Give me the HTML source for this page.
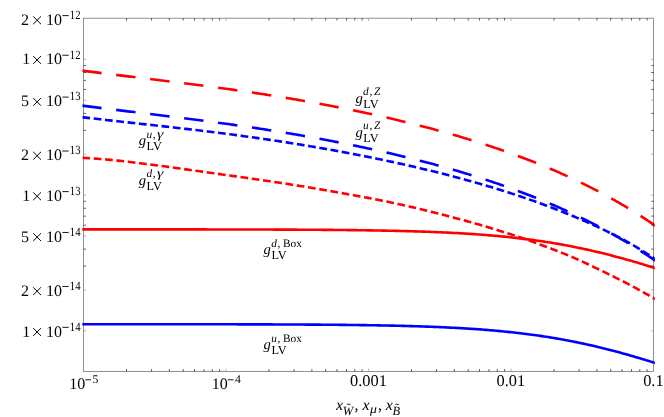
<!DOCTYPE html>
<html><head><meta charset="utf-8"><title>plot</title>
<style>html,body{margin:0;padding:0;background:#fff;}body{width:664px;height:417px;overflow:hidden;font-family:"Liberation Serif",serif;}svg{display:block}</style></head>
<body>
<svg width="664" height="417" viewBox="0 0 664 417">
<defs><clipPath id="c"><rect x="82.3" y="18.2" width="572.5" height="353.2"/></clipPath></defs>
<rect width="664" height="417" fill="#fff"/>
<rect x="83.6" y="18.2" width="570.0" height="353.2" fill="none" stroke="#6e6e6e" stroke-width="0.75"/>
<g clip-path="url(#c)" fill="none" stroke-width="2.6">
<path d="M80.0 324.20 L82.0 324.20 L84.0 324.20 L86.0 324.20 L88.0 324.20 L90.0 324.20 L92.0 324.20 L94.0 324.20 L96.0 324.21 L98.0 324.21 L100.0 324.21 L102.0 324.21 L104.0 324.21 L106.0 324.21 L108.0 324.21 L110.0 324.21 L112.0 324.21 L114.0 324.21 L116.0 324.21 L118.0 324.21 L120.0 324.21 L122.0 324.21 L124.0 324.21 L126.0 324.21 L128.0 324.21 L130.0 324.22 L132.0 324.22 L134.0 324.22 L136.0 324.22 L138.0 324.22 L140.0 324.22 L142.0 324.22 L144.0 324.22 L146.0 324.22 L148.0 324.22 L150.0 324.23 L152.0 324.23 L154.0 324.23 L156.0 324.23 L158.0 324.23 L160.0 324.23 L162.0 324.23 L164.0 324.23 L166.0 324.23 L168.0 324.24 L170.0 324.24 L172.0 324.24 L174.0 324.24 L176.0 324.24 L178.0 324.24 L180.0 324.25 L182.0 324.25 L184.0 324.25 L186.0 324.25 L188.0 324.25 L190.0 324.25 L192.0 324.26 L194.0 324.26 L196.0 324.26 L198.0 324.26 L200.0 324.27 L202.0 324.27 L204.0 324.27 L206.0 324.27 L208.0 324.28 L210.0 324.28 L212.0 324.28 L214.0 324.28 L216.0 324.29 L218.0 324.29 L220.0 324.29 L222.0 324.30 L224.0 324.30 L226.0 324.30 L228.0 324.31 L230.0 324.31 L232.0 324.31 L234.0 324.32 L236.0 324.32 L238.0 324.33 L240.0 324.33 L242.0 324.34 L244.0 324.34 L246.0 324.34 L248.0 324.35 L250.0 324.35 L252.0 324.36 L254.0 324.36 L256.0 324.37 L258.0 324.38 L260.0 324.38 L262.0 324.39 L264.0 324.39 L266.0 324.40 L268.0 324.41 L270.0 324.41 L272.0 324.42 L274.0 324.43 L276.0 324.43 L278.0 324.44 L280.0 324.45 L282.0 324.46 L284.0 324.47 L286.0 324.48 L288.0 324.48 L290.0 324.49 L292.0 324.50 L294.0 324.51 L296.0 324.52 L298.0 324.53 L300.0 324.54 L302.0 324.56 L304.0 324.57 L306.0 324.58 L308.0 324.59 L310.0 324.60 L312.0 324.62 L314.0 324.63 L316.0 324.64 L318.0 324.66 L320.0 324.67 L322.0 324.69 L324.0 324.70 L326.0 324.72 L328.0 324.73 L330.0 324.75 L332.0 324.77 L334.0 324.79 L336.0 324.81 L338.0 324.82 L340.0 324.84 L342.0 324.86 L344.0 324.89 L346.0 324.91 L348.0 324.93 L350.0 324.95 L352.0 324.98 L354.0 325.00 L356.0 325.02 L358.0 325.05 L360.0 325.08 L362.0 325.10 L364.0 325.13 L366.0 325.16 L368.0 325.19 L370.0 325.22 L372.0 325.25 L374.0 325.29 L376.0 325.32 L378.0 325.36 L380.0 325.39 L382.0 325.43 L384.0 325.47 L386.0 325.51 L388.0 325.55 L390.0 325.59 L392.0 325.63 L394.0 325.67 L396.0 325.72 L398.0 325.77 L400.0 325.81 L402.0 325.86 L404.0 325.92 L406.0 325.97 L408.0 326.02 L410.0 326.08 L412.0 326.13 L414.0 326.19 L416.0 326.25 L418.0 326.32 L420.0 326.38 L422.0 326.45 L424.0 326.51 L426.0 326.58 L428.0 326.66 L430.0 326.73 L432.0 326.81 L434.0 326.88 L436.0 326.96 L438.0 327.05 L440.0 327.13 L442.0 327.22 L444.0 327.31 L446.0 327.40 L448.0 327.50 L450.0 327.59 L452.0 327.70 L454.0 327.80 L456.0 327.90 L458.0 328.01 L460.0 328.12 L462.0 328.24 L464.0 328.36 L466.0 328.48 L468.0 328.60 L470.0 328.73 L472.0 328.86 L474.0 329.00 L476.0 329.13 L478.0 329.28 L480.0 329.42 L482.0 329.57 L484.0 329.72 L486.0 329.88 L488.0 330.04 L490.0 330.20 L492.0 330.37 L494.0 330.55 L496.0 330.72 L498.0 330.91 L500.0 331.09 L502.0 331.28 L504.0 331.48 L506.0 331.68 L508.0 331.88 L510.0 332.09 L512.0 332.31 L514.0 332.53 L516.0 332.75 L518.0 332.98 L520.0 333.21 L522.0 333.45 L524.0 333.70 L526.0 333.95 L528.0 334.21 L530.0 334.47 L532.0 334.73 L534.0 335.01 L536.0 335.29 L538.0 335.57 L540.0 335.86 L542.0 336.16 L544.0 336.46 L546.0 336.77 L548.0 337.08 L550.0 337.40 L552.0 337.73 L554.0 338.06 L556.0 338.40 L558.0 338.74 L560.0 339.09 L562.0 339.45 L564.0 339.81 L566.0 340.19 L568.0 340.56 L570.0 340.94 L572.0 341.33 L574.0 341.73 L576.0 342.13 L578.0 342.54 L580.0 342.96 L582.0 343.38 L584.0 343.81 L586.0 344.24 L588.0 344.68 L590.0 345.13 L592.0 345.58 L594.0 346.04 L596.0 346.51 L598.0 346.98 L600.0 347.46 L602.0 347.95 L604.0 348.44 L606.0 348.94 L608.0 349.44 L610.0 349.95 L612.0 350.47 L614.0 350.99 L616.0 351.52 L618.0 352.05 L620.0 352.60 L622.0 353.14 L624.0 353.69 L626.0 354.25 L628.0 354.82 L630.0 355.38 L632.0 355.96 L634.0 356.54 L636.0 357.13 L638.0 357.72 L640.0 358.31 L642.0 358.92 L644.0 359.52 L646.0 360.13 L648.0 360.75 L650.0 361.37 L652.0 362.00 L654.0 362.63 L656.0 363.27" stroke="#0000ff"/>
<path d="M80.0 229.35 L82.0 229.35 L84.0 229.35 L86.0 229.35 L88.0 229.35 L90.0 229.35 L92.0 229.35 L94.0 229.35 L96.0 229.36 L98.0 229.36 L100.0 229.36 L102.0 229.36 L104.0 229.36 L106.0 229.36 L108.0 229.36 L110.0 229.36 L112.0 229.36 L114.0 229.36 L116.0 229.36 L118.0 229.36 L120.0 229.36 L122.0 229.36 L124.0 229.36 L126.0 229.36 L128.0 229.36 L130.0 229.37 L132.0 229.37 L134.0 229.37 L136.0 229.37 L138.0 229.37 L140.0 229.37 L142.0 229.37 L144.0 229.37 L146.0 229.37 L148.0 229.37 L150.0 229.38 L152.0 229.38 L154.0 229.38 L156.0 229.38 L158.0 229.38 L160.0 229.38 L162.0 229.38 L164.0 229.38 L166.0 229.38 L168.0 229.39 L170.0 229.39 L172.0 229.39 L174.0 229.39 L176.0 229.39 L178.0 229.39 L180.0 229.40 L182.0 229.40 L184.0 229.40 L186.0 229.40 L188.0 229.40 L190.0 229.40 L192.0 229.41 L194.0 229.41 L196.0 229.41 L198.0 229.41 L200.0 229.42 L202.0 229.42 L204.0 229.42 L206.0 229.42 L208.0 229.43 L210.0 229.43 L212.0 229.43 L214.0 229.43 L216.0 229.44 L218.0 229.44 L220.0 229.44 L222.0 229.45 L224.0 229.45 L226.0 229.45 L228.0 229.46 L230.0 229.46 L232.0 229.46 L234.0 229.47 L236.0 229.47 L238.0 229.48 L240.0 229.48 L242.0 229.49 L244.0 229.49 L246.0 229.49 L248.0 229.50 L250.0 229.50 L252.0 229.51 L254.0 229.51 L256.0 229.52 L258.0 229.53 L260.0 229.53 L262.0 229.54 L264.0 229.54 L266.0 229.55 L268.0 229.56 L270.0 229.56 L272.0 229.57 L274.0 229.58 L276.0 229.58 L278.0 229.59 L280.0 229.60 L282.0 229.61 L284.0 229.62 L286.0 229.63 L288.0 229.63 L290.0 229.64 L292.0 229.65 L294.0 229.66 L296.0 229.67 L298.0 229.68 L300.0 229.69 L302.0 229.71 L304.0 229.72 L306.0 229.73 L308.0 229.74 L310.0 229.75 L312.0 229.77 L314.0 229.78 L316.0 229.79 L318.0 229.81 L320.0 229.82 L322.0 229.84 L324.0 229.85 L326.0 229.87 L328.0 229.88 L330.0 229.90 L332.0 229.92 L334.0 229.94 L336.0 229.96 L338.0 229.97 L340.0 229.99 L342.0 230.01 L344.0 230.04 L346.0 230.06 L348.0 230.08 L350.0 230.10 L352.0 230.13 L354.0 230.15 L356.0 230.17 L358.0 230.20 L360.0 230.23 L362.0 230.25 L364.0 230.28 L366.0 230.31 L368.0 230.34 L370.0 230.37 L372.0 230.40 L374.0 230.44 L376.0 230.47 L378.0 230.51 L380.0 230.54 L382.0 230.58 L384.0 230.62 L386.0 230.66 L388.0 230.70 L390.0 230.74 L392.0 230.78 L394.0 230.82 L396.0 230.87 L398.0 230.92 L400.0 230.96 L402.0 231.01 L404.0 231.07 L406.0 231.12 L408.0 231.17 L410.0 231.23 L412.0 231.28 L414.0 231.34 L416.0 231.40 L418.0 231.47 L420.0 231.53 L422.0 231.60 L424.0 231.66 L426.0 231.73 L428.0 231.81 L430.0 231.88 L432.0 231.96 L434.0 232.03 L436.0 232.11 L438.0 232.20 L440.0 232.28 L442.0 232.37 L444.0 232.46 L446.0 232.55 L448.0 232.65 L450.0 232.74 L452.0 232.85 L454.0 232.95 L456.0 233.05 L458.0 233.16 L460.0 233.27 L462.0 233.39 L464.0 233.51 L466.0 233.63 L468.0 233.75 L470.0 233.88 L472.0 234.01 L474.0 234.15 L476.0 234.28 L478.0 234.43 L480.0 234.57 L482.0 234.72 L484.0 234.87 L486.0 235.03 L488.0 235.19 L490.0 235.35 L492.0 235.52 L494.0 235.70 L496.0 235.87 L498.0 236.06 L500.0 236.24 L502.0 236.43 L504.0 236.63 L506.0 236.83 L508.0 237.03 L510.0 237.24 L512.0 237.46 L514.0 237.68 L516.0 237.90 L518.0 238.13 L520.0 238.36 L522.0 238.60 L524.0 238.85 L526.0 239.10 L528.0 239.36 L530.0 239.62 L532.0 239.88 L534.0 240.16 L536.0 240.44 L538.0 240.72 L540.0 241.01 L542.0 241.31 L544.0 241.61 L546.0 241.92 L548.0 242.23 L550.0 242.55 L552.0 242.88 L554.0 243.21 L556.0 243.55 L558.0 243.89 L560.0 244.24 L562.0 244.60 L564.0 244.96 L566.0 245.34 L568.0 245.71 L570.0 246.09 L572.0 246.48 L574.0 246.88 L576.0 247.28 L578.0 247.69 L580.0 248.11 L582.0 248.53 L584.0 248.96 L586.0 249.39 L588.0 249.83 L590.0 250.28 L592.0 250.73 L594.0 251.19 L596.0 251.66 L598.0 252.13 L600.0 252.61 L602.0 253.10 L604.0 253.59 L606.0 254.09 L608.0 254.59 L610.0 255.10 L612.0 255.62 L614.0 256.14 L616.0 256.67 L618.0 257.20 L620.0 257.75 L622.0 258.29 L624.0 258.84 L626.0 259.40 L628.0 259.97 L630.0 260.53 L632.0 261.11 L634.0 261.69 L636.0 262.28 L638.0 262.87 L640.0 263.46 L642.0 264.07 L644.0 264.67 L646.0 265.28 L648.0 265.90 L650.0 266.52 L652.0 267.15 L654.0 267.78 L656.0 268.42" stroke="#ff0000"/>
<path d="M80.0 157.68 L82.0 157.77 L84.0 157.88 L86.0 157.99 L88.0 158.11 L90.0 158.23 L92.0 158.36 L94.0 158.50 L96.0 158.65 L98.0 158.80 L100.0 158.96 L102.0 159.13 L104.0 159.30 L106.0 159.48 L108.0 159.66 L110.0 159.85 L112.0 160.04 L114.0 160.24 L116.0 160.44 L118.0 160.65 L120.0 160.86 L122.0 161.08 L124.0 161.30 L126.0 161.52 L128.0 161.75 L130.0 161.98 L132.0 162.21 L134.0 162.45 L136.0 162.69 L138.0 162.93 L140.0 163.18 L142.0 163.43 L144.0 163.68 L146.0 163.94 L148.0 164.19 L150.0 164.45 L152.0 164.71 L154.0 164.97 L156.0 165.24 L158.0 165.50 L160.0 165.77 L162.0 166.04 L164.0 166.31 L166.0 166.58 L168.0 166.86 L170.0 167.13 L172.0 167.41 L174.0 167.68 L176.0 167.96 L178.0 168.24 L180.0 168.52 L182.0 168.79 L184.0 169.07 L186.0 169.35 L188.0 169.63 L190.0 169.92 L192.0 170.20 L194.0 170.48 L196.0 170.76 L198.0 171.04 L200.0 171.32 L202.0 171.60 L204.0 171.89 L206.0 172.17 L208.0 172.45 L210.0 172.73 L212.0 173.01 L214.0 173.30 L216.0 173.58 L218.0 173.86 L220.0 174.14 L222.0 174.42 L224.0 174.71 L226.0 174.99 L228.0 175.27 L230.0 175.56 L232.0 175.84 L234.0 176.12 L236.0 176.41 L238.0 176.69 L240.0 176.97 L242.0 177.26 L244.0 177.54 L246.0 177.83 L248.0 178.12 L250.0 178.40 L252.0 178.69 L254.0 178.98 L256.0 179.27 L258.0 179.56 L260.0 179.85 L262.0 180.14 L264.0 180.43 L266.0 180.73 L268.0 181.02 L270.0 181.32 L272.0 181.61 L274.0 181.91 L276.0 182.21 L278.0 182.51 L280.0 182.81 L282.0 183.12 L284.0 183.42 L286.0 183.73 L288.0 184.04 L290.0 184.35 L292.0 184.66 L294.0 184.98 L296.0 185.29 L298.0 185.61 L300.0 185.93 L302.0 186.26 L304.0 186.58 L306.0 186.91 L308.0 187.24 L310.0 187.57 L312.0 187.91 L314.0 188.24 L316.0 188.58 L318.0 188.92 L320.0 189.26 L322.0 189.61 L324.0 189.95 L326.0 190.30 L328.0 190.65 L330.0 191.00 L332.0 191.35 L334.0 191.70 L336.0 192.06 L338.0 192.41 L340.0 192.77 L342.0 193.13 L344.0 193.49 L346.0 193.85 L348.0 194.21 L350.0 194.57 L352.0 194.94 L354.0 195.30 L356.0 195.67 L358.0 196.04 L360.0 196.41 L362.0 196.78 L364.0 197.15 L366.0 197.53 L368.0 197.90 L370.0 198.28 L372.0 198.67 L374.0 199.05 L376.0 199.44 L378.0 199.83 L380.0 200.23 L382.0 200.63 L384.0 201.03 L386.0 201.44 L388.0 201.84 L390.0 202.26 L392.0 202.68 L394.0 203.10 L396.0 203.53 L398.0 203.96 L400.0 204.40 L402.0 204.84 L404.0 205.28 L406.0 205.74 L408.0 206.19 L410.0 206.65 L412.0 207.12 L414.0 207.59 L416.0 208.06 L418.0 208.54 L420.0 209.02 L422.0 209.51 L424.0 210.00 L426.0 210.49 L428.0 210.98 L430.0 211.48 L432.0 211.98 L434.0 212.49 L436.0 213.00 L438.0 213.51 L440.0 214.02 L442.0 214.53 L444.0 215.05 L446.0 215.57 L448.0 216.09 L450.0 216.61 L452.0 217.13 L454.0 217.66 L456.0 218.19 L458.0 218.72 L460.0 219.25 L462.0 219.79 L464.0 220.33 L466.0 220.87 L468.0 221.42 L470.0 221.97 L472.0 222.53 L474.0 223.09 L476.0 223.66 L478.0 224.24 L480.0 224.82 L482.0 225.40 L484.0 226.00 L486.0 226.60 L488.0 227.20 L490.0 227.81 L492.0 228.42 L494.0 229.04 L496.0 229.66 L498.0 230.28 L500.0 230.91 L502.0 231.54 L504.0 232.16 L506.0 232.79 L508.0 233.43 L510.0 234.06 L512.0 234.70 L514.0 235.35 L516.0 236.00 L518.0 236.66 L520.0 237.32 L522.0 237.99 L524.0 238.67 L526.0 239.36 L528.0 240.06 L530.0 240.77 L532.0 241.49 L534.0 242.22 L536.0 242.95 L538.0 243.70 L540.0 244.44 L542.0 245.19 L544.0 245.95 L546.0 246.70 L548.0 247.45 L550.0 248.21 L552.0 248.97 L554.0 249.73 L556.0 250.49 L558.0 251.27 L560.0 252.05 L562.0 252.84 L564.0 253.64 L566.0 254.45 L568.0 255.27 L570.0 256.11 L572.0 256.96 L574.0 257.82 L576.0 258.69 L578.0 259.58 L580.0 260.48 L582.0 261.40 L584.0 262.33 L586.0 263.26 L588.0 264.21 L590.0 265.17 L592.0 266.13 L594.0 267.09 L596.0 268.06 L598.0 269.03 L600.0 270.00 L602.0 270.98 L604.0 271.95 L606.0 272.92 L608.0 273.89 L610.0 274.87 L612.0 275.85 L614.0 276.84 L616.0 277.83 L618.0 278.83 L620.0 279.84 L622.0 280.85 L624.0 281.88 L626.0 282.91 L628.0 283.96 L630.0 285.01 L632.0 286.08 L634.0 287.15 L636.0 288.23 L638.0 289.33 L640.0 290.43 L642.0 291.54 L644.0 292.66 L646.0 293.79 L648.0 294.92 L650.0 296.06 L652.0 297.20 L654.0 298.35 L656.0 299.49" stroke="#ff0000" stroke-dasharray="7.75 3.63" stroke-dashoffset="9.0"/>
<path d="M80.0 116.87 L82.0 117.12 L84.0 117.36 L86.0 117.61 L88.0 117.85 L90.0 118.09 L92.0 118.32 L94.0 118.56 L96.0 118.79 L98.0 119.03 L100.0 119.26 L102.0 119.49 L104.0 119.72 L106.0 119.95 L108.0 120.17 L110.0 120.40 L112.0 120.63 L114.0 120.85 L116.0 121.07 L118.0 121.30 L120.0 121.52 L122.0 121.74 L124.0 121.96 L126.0 122.18 L128.0 122.40 L130.0 122.63 L132.0 122.85 L134.0 123.07 L136.0 123.29 L138.0 123.50 L140.0 123.72 L142.0 123.94 L144.0 124.16 L146.0 124.38 L148.0 124.60 L150.0 124.82 L152.0 125.05 L154.0 125.27 L156.0 125.49 L158.0 125.71 L160.0 125.93 L162.0 126.16 L164.0 126.38 L166.0 126.60 L168.0 126.83 L170.0 127.05 L172.0 127.28 L174.0 127.51 L176.0 127.73 L178.0 127.96 L180.0 128.19 L182.0 128.42 L184.0 128.65 L186.0 128.89 L188.0 129.12 L190.0 129.35 L192.0 129.59 L194.0 129.83 L196.0 130.06 L198.0 130.30 L200.0 130.54 L202.0 130.78 L204.0 131.03 L206.0 131.27 L208.0 131.52 L210.0 131.76 L212.0 132.01 L214.0 132.26 L216.0 132.51 L218.0 132.76 L220.0 133.02 L222.0 133.27 L224.0 133.53 L226.0 133.79 L228.0 134.04 L230.0 134.31 L232.0 134.57 L234.0 134.83 L236.0 135.10 L238.0 135.37 L240.0 135.64 L242.0 135.91 L244.0 136.18 L246.0 136.45 L248.0 136.73 L250.0 137.01 L252.0 137.29 L254.0 137.57 L256.0 137.85 L258.0 138.14 L260.0 138.42 L262.0 138.71 L264.0 139.00 L266.0 139.29 L268.0 139.59 L270.0 139.88 L272.0 140.18 L274.0 140.48 L276.0 140.78 L278.0 141.09 L280.0 141.39 L282.0 141.70 L284.0 142.01 L286.0 142.32 L288.0 142.63 L290.0 142.95 L292.0 143.27 L294.0 143.59 L296.0 143.91 L298.0 144.23 L300.0 144.55 L302.0 144.88 L304.0 145.21 L306.0 145.54 L308.0 145.88 L310.0 146.21 L312.0 146.55 L314.0 146.89 L316.0 147.23 L318.0 147.57 L320.0 147.92 L322.0 148.27 L324.0 148.62 L326.0 148.97 L328.0 149.33 L330.0 149.68 L332.0 150.04 L334.0 150.40 L336.0 150.77 L338.0 151.13 L340.0 151.50 L342.0 151.87 L344.0 152.24 L346.0 152.62 L348.0 152.99 L350.0 153.37 L352.0 153.75 L354.0 154.14 L356.0 154.52 L358.0 154.91 L360.0 155.30 L362.0 155.70 L364.0 156.09 L366.0 156.49 L368.0 156.89 L370.0 157.29 L372.0 157.70 L374.0 158.11 L376.0 158.52 L378.0 158.93 L380.0 159.34 L382.0 159.76 L384.0 160.18 L386.0 160.60 L388.0 161.03 L390.0 161.46 L392.0 161.89 L394.0 162.32 L396.0 162.76 L398.0 163.20 L400.0 163.64 L402.0 164.08 L404.0 164.53 L406.0 164.98 L408.0 165.43 L410.0 165.88 L412.0 166.34 L414.0 166.80 L416.0 167.27 L418.0 167.73 L420.0 168.20 L422.0 168.68 L424.0 169.15 L426.0 169.63 L428.0 170.11 L430.0 170.60 L432.0 171.08 L434.0 171.57 L436.0 172.07 L438.0 172.57 L440.0 173.07 L442.0 173.57 L444.0 174.08 L446.0 174.59 L448.0 175.10 L450.0 175.62 L452.0 176.14 L454.0 176.67 L456.0 177.19 L458.0 177.73 L460.0 178.26 L462.0 178.80 L464.0 179.34 L466.0 179.89 L468.0 180.44 L470.0 180.99 L472.0 181.55 L474.0 182.11 L476.0 182.68 L478.0 183.25 L480.0 183.82 L482.0 184.40 L484.0 184.99 L486.0 185.57 L488.0 186.16 L490.0 186.76 L492.0 187.36 L494.0 187.96 L496.0 188.57 L498.0 189.19 L500.0 189.81 L502.0 190.43 L504.0 191.06 L506.0 191.69 L508.0 192.33 L510.0 192.97 L512.0 193.62 L514.0 194.27 L516.0 194.93 L518.0 195.60 L520.0 196.26 L522.0 196.94 L524.0 197.62 L526.0 198.30 L528.0 198.99 L530.0 199.69 L532.0 200.39 L534.0 201.10 L536.0 201.81 L538.0 202.53 L540.0 203.25 L542.0 203.98 L544.0 204.72 L546.0 205.46 L548.0 206.21 L550.0 206.96 L552.0 207.72 L554.0 208.49 L556.0 209.26 L558.0 210.04 L560.0 210.83 L562.0 211.63 L564.0 212.43 L566.0 213.23 L568.0 214.05 L570.0 214.87 L572.0 215.69 L574.0 216.53 L576.0 217.37 L578.0 218.22 L580.0 219.07 L582.0 219.94 L584.0 220.81 L586.0 221.68 L588.0 222.57 L590.0 223.46 L592.0 224.36 L594.0 225.26 L596.0 226.17 L598.0 227.10 L600.0 228.02 L602.0 228.96 L604.0 229.90 L606.0 230.86 L608.0 231.82 L610.0 232.80 L612.0 233.78 L614.0 234.78 L616.0 235.80 L618.0 236.83 L620.0 237.87 L622.0 238.93 L624.0 240.01 L626.0 241.10 L628.0 242.21 L630.0 243.34 L632.0 244.49 L634.0 245.66 L636.0 246.84 L638.0 248.04 L640.0 249.26 L642.0 250.49 L644.0 251.74 L646.0 253.01 L648.0 254.29 L650.0 255.58 L652.0 256.89 L654.0 258.22 L656.0 259.56" stroke="#0000ff" stroke-dasharray="7.75 3.63" stroke-dashoffset="9.0"/>
<path d="M80.0 105.34 L82.0 105.61 L84.0 105.87 L86.0 106.13 L88.0 106.38 L90.0 106.64 L92.0 106.90 L94.0 107.15 L96.0 107.40 L98.0 107.66 L100.0 107.91 L102.0 108.16 L104.0 108.41 L106.0 108.66 L108.0 108.90 L110.0 109.15 L112.0 109.40 L114.0 109.64 L116.0 109.89 L118.0 110.13 L120.0 110.37 L122.0 110.62 L124.0 110.86 L126.0 111.10 L128.0 111.34 L130.0 111.59 L132.0 111.83 L134.0 112.07 L136.0 112.31 L138.0 112.55 L140.0 112.80 L142.0 113.04 L144.0 113.28 L146.0 113.52 L148.0 113.76 L150.0 114.01 L152.0 114.25 L154.0 114.49 L156.0 114.73 L158.0 114.98 L160.0 115.22 L162.0 115.47 L164.0 115.71 L166.0 115.96 L168.0 116.21 L170.0 116.45 L172.0 116.70 L174.0 116.95 L176.0 117.20 L178.0 117.45 L180.0 117.70 L182.0 117.95 L184.0 118.20 L186.0 118.46 L188.0 118.71 L190.0 118.97 L192.0 119.22 L194.0 119.48 L196.0 119.74 L198.0 120.00 L200.0 120.26 L202.0 120.52 L204.0 120.78 L206.0 121.05 L208.0 121.31 L210.0 121.58 L212.0 121.85 L214.0 122.11 L216.0 122.38 L218.0 122.66 L220.0 122.93 L222.0 123.20 L224.0 123.48 L226.0 123.76 L228.0 124.04 L230.0 124.32 L232.0 124.60 L234.0 124.88 L236.0 125.17 L238.0 125.45 L240.0 125.74 L242.0 126.03 L244.0 126.32 L246.0 126.62 L248.0 126.91 L250.0 127.21 L252.0 127.51 L254.0 127.81 L256.0 128.11 L258.0 128.41 L260.0 128.72 L262.0 129.03 L264.0 129.34 L266.0 129.65 L268.0 129.96 L270.0 130.27 L272.0 130.59 L274.0 130.91 L276.0 131.23 L278.0 131.55 L280.0 131.88 L282.0 132.20 L284.0 132.53 L286.0 132.86 L288.0 133.20 L290.0 133.53 L292.0 133.87 L294.0 134.21 L296.0 134.55 L298.0 134.89 L300.0 135.24 L302.0 135.59 L304.0 135.94 L306.0 136.29 L308.0 136.64 L310.0 137.00 L312.0 137.36 L314.0 137.72 L316.0 138.08 L318.0 138.45 L320.0 138.82 L322.0 139.19 L324.0 139.56 L326.0 139.94 L328.0 140.31 L330.0 140.70 L332.0 141.08 L334.0 141.46 L336.0 141.85 L338.0 142.24 L340.0 142.63 L342.0 143.03 L344.0 143.43 L346.0 143.83 L348.0 144.23 L350.0 144.64 L352.0 145.05 L354.0 145.46 L356.0 145.87 L358.0 146.29 L360.0 146.71 L362.0 147.13 L364.0 147.55 L366.0 147.98 L368.0 148.41 L370.0 148.84 L372.0 149.28 L374.0 149.72 L376.0 150.16 L378.0 150.60 L380.0 151.05 L382.0 151.50 L384.0 151.96 L386.0 152.41 L388.0 152.87 L390.0 153.34 L392.0 153.80 L394.0 154.27 L396.0 154.74 L398.0 155.22 L400.0 155.70 L402.0 156.18 L404.0 156.66 L406.0 157.15 L408.0 157.64 L410.0 158.14 L412.0 158.64 L414.0 159.14 L416.0 159.65 L418.0 160.15 L420.0 160.67 L422.0 161.18 L424.0 161.70 L426.0 162.23 L428.0 162.75 L430.0 163.28 L432.0 163.82 L434.0 164.36 L436.0 164.90 L438.0 165.44 L440.0 165.99 L442.0 166.55 L444.0 167.10 L446.0 167.67 L448.0 168.23 L450.0 168.80 L452.0 169.37 L454.0 169.95 L456.0 170.53 L458.0 171.12 L460.0 171.71 L462.0 172.31 L464.0 172.90 L466.0 173.51 L468.0 174.12 L470.0 174.73 L472.0 175.35 L474.0 175.97 L476.0 176.60 L478.0 177.23 L480.0 177.86 L482.0 178.50 L484.0 179.15 L486.0 179.80 L488.0 180.46 L490.0 181.12 L492.0 181.78 L494.0 182.45 L496.0 183.13 L498.0 183.81 L500.0 184.50 L502.0 185.19 L504.0 185.89 L506.0 186.59 L508.0 187.30 L510.0 188.02 L512.0 188.74 L514.0 189.46 L516.0 190.19 L518.0 190.93 L520.0 191.68 L522.0 192.43 L524.0 193.18 L526.0 193.94 L528.0 194.71 L530.0 195.49 L532.0 196.27 L534.0 197.06 L536.0 197.85 L538.0 198.65 L540.0 199.46 L542.0 200.28 L544.0 201.10 L546.0 201.93 L548.0 202.76 L550.0 203.60 L552.0 204.45 L554.0 205.31 L556.0 206.18 L558.0 207.05 L560.0 207.93 L562.0 208.82 L564.0 209.71 L566.0 210.61 L568.0 211.53 L570.0 212.45 L572.0 213.37 L574.0 214.31 L576.0 215.25 L578.0 216.20 L580.0 217.17 L582.0 218.14 L584.0 219.11 L586.0 220.10 L588.0 221.10 L590.0 222.10 L592.0 223.12 L594.0 224.14 L596.0 225.18 L598.0 226.22 L600.0 227.27 L602.0 228.33 L604.0 229.41 L606.0 230.49 L608.0 231.58 L610.0 232.68 L612.0 233.80 L614.0 234.92 L616.0 236.05 L618.0 237.20 L620.0 238.36 L622.0 239.52 L624.0 240.70 L626.0 241.89 L628.0 243.09 L630.0 244.30 L632.0 245.53 L634.0 246.76 L636.0 248.01 L638.0 249.27 L640.0 250.54 L642.0 251.82 L644.0 253.12 L646.0 254.43 L648.0 255.75 L650.0 257.09 L652.0 258.44 L654.0 259.80 L656.0 261.17" stroke="#0000ff" stroke-dasharray="19.5 14.73" stroke-dashoffset="32.0"/>
<path d="M80.0 70.34 L82.0 70.61 L84.0 70.87 L86.0 71.13 L88.0 71.38 L90.0 71.64 L92.0 71.90 L94.0 72.15 L96.0 72.40 L98.0 72.66 L100.0 72.91 L102.0 73.16 L104.0 73.41 L106.0 73.66 L108.0 73.90 L110.0 74.15 L112.0 74.40 L114.0 74.64 L116.0 74.89 L118.0 75.13 L120.0 75.37 L122.0 75.62 L124.0 75.86 L126.0 76.10 L128.0 76.34 L130.0 76.59 L132.0 76.83 L134.0 77.07 L136.0 77.31 L138.0 77.55 L140.0 77.80 L142.0 78.04 L144.0 78.28 L146.0 78.52 L148.0 78.76 L150.0 79.01 L152.0 79.25 L154.0 79.49 L156.0 79.73 L158.0 79.98 L160.0 80.22 L162.0 80.47 L164.0 80.71 L166.0 80.96 L168.0 81.21 L170.0 81.45 L172.0 81.70 L174.0 81.95 L176.0 82.20 L178.0 82.45 L180.0 82.70 L182.0 82.95 L184.0 83.20 L186.0 83.46 L188.0 83.71 L190.0 83.97 L192.0 84.22 L194.0 84.48 L196.0 84.74 L198.0 85.00 L200.0 85.26 L202.0 85.52 L204.0 85.78 L206.0 86.05 L208.0 86.31 L210.0 86.58 L212.0 86.85 L214.0 87.11 L216.0 87.38 L218.0 87.66 L220.0 87.93 L222.0 88.20 L224.0 88.48 L226.0 88.76 L228.0 89.04 L230.0 89.32 L232.0 89.60 L234.0 89.88 L236.0 90.17 L238.0 90.45 L240.0 90.74 L242.0 91.03 L244.0 91.32 L246.0 91.62 L248.0 91.91 L250.0 92.21 L252.0 92.51 L254.0 92.81 L256.0 93.11 L258.0 93.41 L260.0 93.72 L262.0 94.03 L264.0 94.34 L266.0 94.65 L268.0 94.96 L270.0 95.27 L272.0 95.59 L274.0 95.91 L276.0 96.23 L278.0 96.55 L280.0 96.88 L282.0 97.20 L284.0 97.53 L286.0 97.86 L288.0 98.20 L290.0 98.53 L292.0 98.87 L294.0 99.21 L296.0 99.55 L298.0 99.89 L300.0 100.24 L302.0 100.59 L304.0 100.94 L306.0 101.29 L308.0 101.64 L310.0 102.00 L312.0 102.36 L314.0 102.72 L316.0 103.08 L318.0 103.45 L320.0 103.82 L322.0 104.19 L324.0 104.56 L326.0 104.94 L328.0 105.31 L330.0 105.70 L332.0 106.08 L334.0 106.46 L336.0 106.85 L338.0 107.24 L340.0 107.63 L342.0 108.03 L344.0 108.43 L346.0 108.83 L348.0 109.23 L350.0 109.64 L352.0 110.05 L354.0 110.46 L356.0 110.87 L358.0 111.29 L360.0 111.71 L362.0 112.13 L364.0 112.55 L366.0 112.98 L368.0 113.41 L370.0 113.84 L372.0 114.28 L374.0 114.72 L376.0 115.16 L378.0 115.60 L380.0 116.05 L382.0 116.50 L384.0 116.96 L386.0 117.41 L388.0 117.87 L390.0 118.34 L392.0 118.80 L394.0 119.27 L396.0 119.74 L398.0 120.22 L400.0 120.70 L402.0 121.18 L404.0 121.66 L406.0 122.15 L408.0 122.64 L410.0 123.14 L412.0 123.64 L414.0 124.14 L416.0 124.65 L418.0 125.15 L420.0 125.67 L422.0 126.18 L424.0 126.70 L426.0 127.23 L428.0 127.75 L430.0 128.28 L432.0 128.82 L434.0 129.36 L436.0 129.90 L438.0 130.44 L440.0 130.99 L442.0 131.55 L444.0 132.10 L446.0 132.67 L448.0 133.23 L450.0 133.80 L452.0 134.37 L454.0 134.95 L456.0 135.53 L458.0 136.12 L460.0 136.71 L462.0 137.31 L464.0 137.90 L466.0 138.51 L468.0 139.12 L470.0 139.73 L472.0 140.35 L474.0 140.97 L476.0 141.60 L478.0 142.23 L480.0 142.86 L482.0 143.50 L484.0 144.15 L486.0 144.80 L488.0 145.46 L490.0 146.12 L492.0 146.78 L494.0 147.45 L496.0 148.13 L498.0 148.81 L500.0 149.50 L502.0 150.19 L504.0 150.89 L506.0 151.59 L508.0 152.30 L510.0 153.02 L512.0 153.74 L514.0 154.46 L516.0 155.19 L518.0 155.93 L520.0 156.68 L522.0 157.43 L524.0 158.18 L526.0 158.94 L528.0 159.71 L530.0 160.49 L532.0 161.27 L534.0 162.06 L536.0 162.85 L538.0 163.65 L540.0 164.46 L542.0 165.28 L544.0 166.10 L546.0 166.93 L548.0 167.76 L550.0 168.60 L552.0 169.45 L554.0 170.31 L556.0 171.18 L558.0 172.05 L560.0 172.93 L562.0 173.82 L564.0 174.71 L566.0 175.61 L568.0 176.53 L570.0 177.45 L572.0 178.37 L574.0 179.31 L576.0 180.25 L578.0 181.20 L580.0 182.17 L582.0 183.14 L584.0 184.11 L586.0 185.10 L588.0 186.10 L590.0 187.10 L592.0 188.12 L594.0 189.14 L596.0 190.18 L598.0 191.22 L600.0 192.27 L602.0 193.33 L604.0 194.41 L606.0 195.49 L608.0 196.58 L610.0 197.68 L612.0 198.80 L614.0 199.92 L616.0 201.05 L618.0 202.20 L620.0 203.36 L622.0 204.52 L624.0 205.70 L626.0 206.89 L628.0 208.09 L630.0 209.30 L632.0 210.53 L634.0 211.76 L636.0 213.01 L638.0 214.27 L640.0 215.54 L642.0 216.82 L644.0 218.12 L646.0 219.43 L648.0 220.75 L650.0 222.09 L652.0 223.44 L654.0 224.80 L656.0 226.17" stroke="#ff0000" stroke-dasharray="19.5 14.73" stroke-dashoffset="32.0"/>
</g>
<path d="M83.6 59.36h2.8M653.6 59.36h-2.8M83.6 195.10h2.8M653.6 195.10h-2.8M83.6 154.24h2.8M653.6 154.24h-2.8M83.6 100.22h2.8M653.6 100.22h-2.8M83.6 330.84h2.8M653.6 330.84h-2.8M83.6 289.98h2.8M653.6 289.98h-2.8M83.6 235.96h2.8M653.6 235.96h-2.8M226.10 371.4v-2.8M226.10 18.2v2.8M368.60 371.4v-2.8M368.60 18.2v2.8M511.10 371.4v-2.8M511.10 18.2v2.8" stroke="#989898" stroke-width="0.7" fill="none"/>
<path d="M83.6 130.34h2.3M653.6 130.34h-2.3M83.6 113.38h2.3M653.6 113.38h-2.3M83.6 89.47h2.3M653.6 89.47h-2.3M83.6 80.39h2.3M653.6 80.39h-2.3M83.6 72.52h2.3M653.6 72.52h-2.3M83.6 65.57h2.3M653.6 65.57h-2.3M83.6 266.07h2.3M653.6 266.07h-2.3M83.6 249.12h2.3M653.6 249.12h-2.3M83.6 225.21h2.3M653.6 225.21h-2.3M83.6 216.13h2.3M653.6 216.13h-2.3M83.6 208.25h2.3M653.6 208.25h-2.3M83.6 201.31h2.3M653.6 201.31h-2.3M126.50 371.4v-2.3M126.50 18.2v2.3M151.59 371.4v-2.3M151.59 18.2v2.3M169.39 371.4v-2.3M169.39 18.2v2.3M183.20 371.4v-2.3M183.20 18.2v2.3M194.49 371.4v-2.3M194.49 18.2v2.3M204.03 371.4v-2.3M204.03 18.2v2.3M212.29 371.4v-2.3M212.29 18.2v2.3M219.58 371.4v-2.3M219.58 18.2v2.3M269.00 371.4v-2.3M269.00 18.2v2.3M294.09 371.4v-2.3M294.09 18.2v2.3M311.89 371.4v-2.3M311.89 18.2v2.3M325.70 371.4v-2.3M325.70 18.2v2.3M336.99 371.4v-2.3M336.99 18.2v2.3M346.53 371.4v-2.3M346.53 18.2v2.3M354.79 371.4v-2.3M354.79 18.2v2.3M362.08 371.4v-2.3M362.08 18.2v2.3M411.50 371.4v-2.3M411.50 18.2v2.3M436.59 371.4v-2.3M436.59 18.2v2.3M454.39 371.4v-2.3M454.39 18.2v2.3M468.20 371.4v-2.3M468.20 18.2v2.3M479.49 371.4v-2.3M479.49 18.2v2.3M489.03 371.4v-2.3M489.03 18.2v2.3M497.29 371.4v-2.3M497.29 18.2v2.3M504.58 371.4v-2.3M504.58 18.2v2.3M554.00 371.4v-2.3M554.00 18.2v2.3M579.09 371.4v-2.3M579.09 18.2v2.3M596.89 371.4v-2.3M596.89 18.2v2.3M610.70 371.4v-2.3M610.70 18.2v2.3M621.99 371.4v-2.3M621.99 18.2v2.3M631.53 371.4v-2.3M631.53 18.2v2.3M639.79 371.4v-2.3M639.79 18.2v2.3M647.08 371.4v-2.3M647.08 18.2v2.3" stroke="#000000" stroke-width="0.65" fill="none"/>
<g font-family="'Liberation Serif', serif" fill="#000" text-rendering="geometricPrecision" style="will-change:transform">
<text x="21.00" y="24.80" font-size="16.00">2</text>
<path d="M33.20 16.40l7.80 7.80M33.20 24.20l7.80 -7.80" stroke="#000" stroke-width="1" fill="none"/>
<text x="46.00" y="24.80" font-size="16.00">10</text>
<path d="M62.40 15.60h6.3" stroke="#000" stroke-width="0.9" fill="none"/>
<text x="69.80" y="18.90" font-size="12.60" textLength="10.7" lengthAdjust="spacingAndGlyphs">12</text>
<text x="22.20" y="64.46" font-size="16.00">1</text>
<path d="M33.20 56.06l7.80 7.80M33.20 63.86l7.80 -7.80" stroke="#000" stroke-width="1" fill="none"/>
<text x="46.00" y="64.46" font-size="16.00">10</text>
<path d="M62.40 55.26h6.3" stroke="#000" stroke-width="0.9" fill="none"/>
<text x="69.80" y="58.56" font-size="12.60" textLength="10.7" lengthAdjust="spacingAndGlyphs">12</text>
<text x="21.00" y="106.32" font-size="16.00">5</text>
<path d="M33.20 97.92l7.80 7.80M33.20 105.72l7.80 -7.80" stroke="#000" stroke-width="1" fill="none"/>
<text x="46.00" y="106.32" font-size="16.00">10</text>
<path d="M62.40 97.12h6.3" stroke="#000" stroke-width="0.9" fill="none"/>
<text x="69.80" y="100.42" font-size="12.60" textLength="10.7" lengthAdjust="spacingAndGlyphs">13</text>
<text x="21.00" y="160.24" font-size="16.00">2</text>
<path d="M33.20 151.84l7.80 7.80M33.20 159.64l7.80 -7.80" stroke="#000" stroke-width="1" fill="none"/>
<text x="46.00" y="160.24" font-size="16.00">10</text>
<path d="M62.40 151.04h6.3" stroke="#000" stroke-width="0.9" fill="none"/>
<text x="69.80" y="154.34" font-size="12.60" textLength="10.7" lengthAdjust="spacingAndGlyphs">13</text>
<text x="22.20" y="200.80" font-size="16.00">1</text>
<path d="M33.20 192.40l7.80 7.80M33.20 200.20l7.80 -7.80" stroke="#000" stroke-width="1" fill="none"/>
<text x="46.00" y="200.80" font-size="16.00">10</text>
<path d="M62.40 191.60h6.3" stroke="#000" stroke-width="0.9" fill="none"/>
<text x="69.80" y="194.90" font-size="12.60" textLength="10.7" lengthAdjust="spacingAndGlyphs">13</text>
<text x="21.00" y="241.66" font-size="16.00">5</text>
<path d="M33.20 233.26l7.80 7.80M33.20 241.06l7.80 -7.80" stroke="#000" stroke-width="1" fill="none"/>
<text x="46.00" y="241.66" font-size="16.00">10</text>
<path d="M62.40 232.46h6.3" stroke="#000" stroke-width="0.9" fill="none"/>
<text x="69.80" y="235.76" font-size="12.60" textLength="10.7" lengthAdjust="spacingAndGlyphs">14</text>
<text x="21.00" y="295.68" font-size="16.00">2</text>
<path d="M33.20 287.28l7.80 7.80M33.20 295.08l7.80 -7.80" stroke="#000" stroke-width="1" fill="none"/>
<text x="46.00" y="295.68" font-size="16.00">10</text>
<path d="M62.40 286.48h6.3" stroke="#000" stroke-width="0.9" fill="none"/>
<text x="69.80" y="289.78" font-size="12.60" textLength="10.7" lengthAdjust="spacingAndGlyphs">14</text>
<text x="22.20" y="336.54" font-size="16.00">1</text>
<path d="M33.20 328.14l7.80 7.80M33.20 335.94l7.80 -7.80" stroke="#000" stroke-width="1" fill="none"/>
<text x="46.00" y="336.54" font-size="16.00">10</text>
<path d="M62.40 327.34h6.3" stroke="#000" stroke-width="0.9" fill="none"/>
<text x="69.80" y="330.64" font-size="12.60" textLength="10.7" lengthAdjust="spacingAndGlyphs">14</text>
<text x="69.20" y="389.00" font-size="16.00">10</text>
<path d="M85.30 379.80h5.7" stroke="#000" stroke-width="0.9" fill="none"/>
<text x="92.40" y="383.00" font-size="11.80">5</text>
<text x="211.70" y="389.00" font-size="16.00">10</text>
<path d="M227.80 379.80h5.7" stroke="#000" stroke-width="0.9" fill="none"/>
<text x="234.90" y="383.00" font-size="11.80">4</text>
<text x="368.40" y="386.10" font-size="16.40" text-anchor="middle">0.001</text>
<text x="510.90" y="386.10" font-size="16.40" text-anchor="middle">0.01</text>
<text x="653.40" y="386.10" font-size="16.40" text-anchor="middle">0.1</text>
<text x="336.00" y="410.10" font-size="16.00" font-style="italic">x</text>
<text x="342.70" y="414.90" font-size="12.50" font-style="italic">W</text>
<text x="346.70" y="412.10" font-size="12.50">˜</text>
<text x="354.60" y="410.10" font-size="16.00">,</text>
<text x="362.50" y="410.10" font-size="16.00" font-style="italic">x</text>
<text x="370.00" y="413.10" font-size="12.50" font-style="italic" textLength="6.9" lengthAdjust="spacingAndGlyphs">μ</text>
<text x="378.00" y="410.10" font-size="16.00">,</text>
<text x="385.80" y="410.10" font-size="16.00" font-style="italic">x</text>
<text x="392.50" y="414.90" font-size="12.50" font-style="italic">B</text>
<text x="395.20" y="412.10" font-size="12.50">˜</text>
<text x="138.70" y="144.80" font-size="14.60" font-style="italic">g</text>
<text x="146.60" y="149.90" font-size="12.30">LV</text>
<text x="146.40" y="137.50" font-size="11.30" font-style="italic">u</text>
<text x="152.70" y="137.50" font-size="11.30">,</text>
<text x="157.00" y="137.50" font-size="12.50" font-style="italic" textLength="6.4" lengthAdjust="spacingAndGlyphs">γ</text>
<text x="138.70" y="185.20" font-size="14.60" font-style="italic">g</text>
<text x="146.60" y="190.30" font-size="12.30">LV</text>
<text x="146.40" y="176.80" font-size="11.30" font-style="italic">d</text>
<text x="152.70" y="176.80" font-size="11.30">,</text>
<text x="157.00" y="176.80" font-size="12.50" font-style="italic" textLength="6.4" lengthAdjust="spacingAndGlyphs">γ</text>
<text x="355.40" y="102.50" font-size="14.60" font-style="italic">g</text>
<text x="363.30" y="107.60" font-size="12.30">LV</text>
<text x="363.10" y="95.20" font-size="11.30" font-style="italic">d</text>
<text x="369.40" y="95.20" font-size="11.30">,</text>
<text x="374.10" y="95.20" font-size="11.30" font-style="italic">Z</text>
<text x="355.40" y="136.60" font-size="14.60" font-style="italic">g</text>
<text x="363.30" y="141.70" font-size="12.30">LV</text>
<text x="363.10" y="129.30" font-size="11.30" font-style="italic">u</text>
<text x="369.40" y="129.30" font-size="11.30">,</text>
<text x="374.10" y="129.30" font-size="11.30" font-style="italic">Z</text>
<text x="263.50" y="254.30" font-size="14.60" font-style="italic">g</text>
<text x="271.40" y="259.40" font-size="12.30">LV</text>
<text x="271.20" y="247.00" font-size="11.30" font-style="italic">d</text>
<text x="277.50" y="247.00" font-size="11.30">,</text>
<text x="283.00" y="247.00" font-size="11.30">Box</text>
<text x="263.50" y="348.90" font-size="14.60" font-style="italic">g</text>
<text x="271.40" y="354.00" font-size="12.30">LV</text>
<text x="271.20" y="341.60" font-size="11.30" font-style="italic">u</text>
<text x="277.50" y="341.60" font-size="11.30">,</text>
<text x="283.00" y="341.60" font-size="11.30">Box</text>
</g>
</svg>
</body></html>
